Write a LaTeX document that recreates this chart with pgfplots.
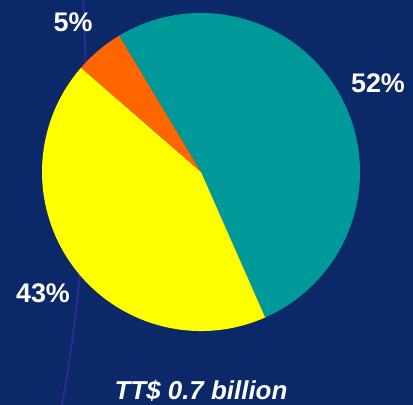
\documentclass[border=0pt]{standalone}
\usepackage{pgfplots}
\pgfplotsset{compat=1.18}
\usepackage{fontspec}
\setmainfont{Liberation Sans}
\definecolor{bgnavy}{HTML}{0B2869}
\definecolor{pieteal}{HTML}{009999}
\definecolor{pieyellow}{HTML}{FFFF00}
\definecolor{pieorange}{HTML}{FF6600}
\definecolor{leadline}{HTML}{2E2A9A}
\begin{document}
\begin{tikzpicture}
\begin{axis}[
  name=pie,
  x=1bp, y=1bp,
  xmin=0, xmax=413, ymin=0, ymax=405,
  hide axis, clip=false,
]
% background
\fill[bgnavy] (axis cs:0,0) rectangle (axis cs:413,405);
% thin leader line (behind the pie)
\addplot[leadline, line width=1.8bp, no markers] coordinates {
  (83,405) (84.5,380) (85.5,345) (85.8,300) (85.3,250) (84,200)
  (81.5,150) (78,110) (73,70) (68,35) (62,0)
};
% pie: 52% teal, 43% yellow, 5% orange; start at 121 deg, clockwise
\fill[pieteal] (axis cs:201,233) -- ++(121:159bp)
   arc[start angle=121, end angle=-66.2, radius=159bp] -- cycle;
\fill[pieyellow] (axis cs:201,233) -- ++(-66.2:159bp)
   arc[start angle=-66.2, end angle=-221, radius=159bp] -- cycle;
\fill[pieorange] (axis cs:201,233) -- ++(-221:159bp)
   arc[start angle=-221, end angle=-239, radius=159bp] -- cycle;
% labels
\node[text=white, font=\fontsize{27}{30}\selectfont\bfseries] at (axis cs:73,383) {5\%};
\node[text=white, font=\fontsize{27}{30}\selectfont\bfseries] at (axis cs:378,322) {52\%};
\node[text=white, font=\fontsize{27}{30}\selectfont\bfseries] at (axis cs:43,112) {43\%};
\node[text=white, font=\fontsize{26}{30}\selectfont\bfseries\itshape, anchor=base, inner sep=0pt] at (axis cs:201,6) {TT\$ 0.7 billion};
\coordinate (bbsw) at (axis cs:0,0);
\coordinate (bbne) at (axis cs:413,405);
\end{axis}
\pgfresetboundingbox
\useasboundingbox (bbsw) rectangle (bbne);
\end{tikzpicture}
\end{document}
